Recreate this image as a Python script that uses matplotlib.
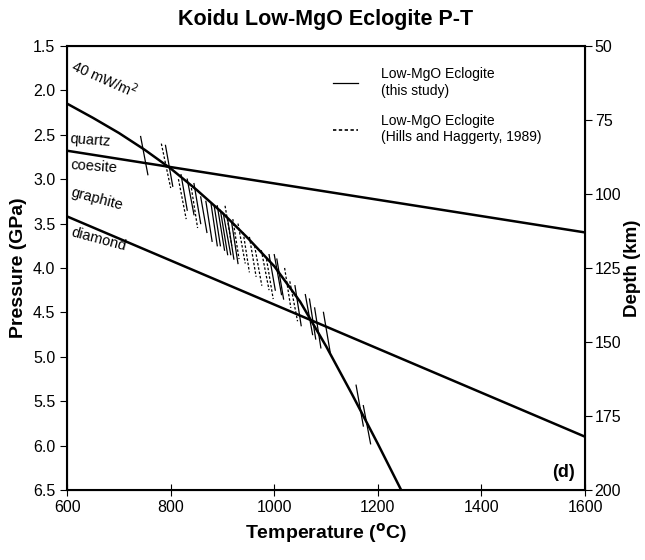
import matplotlib
matplotlib.use('Agg')
import matplotlib.pyplot as plt
from matplotlib.lines import Line2D

plt.rcParams['font.family'] = ['Liberation Sans', 'DejaVu Sans']

# 40 mW/m2 geotherm
geo_T = [600, 650, 700, 750, 800, 850, 900, 950, 1000, 1050, 1100, 1150, 1200, 1245]
geo_P = [2.15, 2.31, 2.48, 2.67, 2.88, 3.12, 3.38, 3.67, 3.98, 4.38, 4.88, 5.42, 5.98, 6.5]

# phase boundaries
qc_T = [600, 1600]
qc_P = [2.68, 3.6]
gd_T = [600, 1600]
gd_P = [3.42, 5.9]

# Low-MgO eclogite, this study (segment ends: T1, P1, T2, P2)
own_T1 = [742, 790, 820, 832, 845, 858, 868, 878, 884, 890, 896, 902, 910, 918,
          990, 1000, 1005, 1040, 1060, 1068, 1078, 1095, 1158, 1172]
own_P1 = [2.52, 2.62, 2.95, 3.0, 3.05, 3.2, 3.25, 3.28, 3.3, 3.3, 3.35, 3.4, 3.45, 3.5,
          3.85, 3.85, 3.9, 4.2, 4.3, 4.35, 4.45, 4.5, 5.32, 5.55]
own_T2 = [756, 804, 832, 845, 858, 870, 880, 890, 896, 904, 910, 916, 922, 930,
          1002, 1014, 1018, 1052, 1074, 1080, 1090, 1108, 1172, 1186]
own_P2 = [2.95, 3.08, 3.35, 3.4, 3.5, 3.6, 3.7, 3.75, 3.75, 3.8, 3.85, 3.85, 3.9, 3.95,
          4.25, 4.3, 4.35, 4.65, 4.75, 4.8, 4.9, 4.95, 5.78, 5.98]

# Hills and Haggerty (1989)
hh_T1 = [782, 815, 840, 905, 920, 930, 940, 952, 962, 975, 985, 1020, 1030]
hh_P1 = [2.6, 3.0, 3.1, 3.3, 3.45, 3.5, 3.6, 3.65, 3.75, 3.8, 3.9, 4.0, 4.15]
hh_T2 = [800, 830, 852, 918, 932, 944, 952, 965, 976, 990, 998, 1032, 1045]
hh_P2 = [3.1, 3.45, 3.55, 3.75, 3.9, 3.95, 4.05, 4.1, 4.2, 4.25, 4.35, 4.45, 4.6]

x_ticks = [600, 800, 1000, 1200, 1400, 1600]
p_ticks = [1.5, 2.0, 2.5, 3.0, 3.5, 4.0, 4.5, 5.0, 5.5, 6.0, 6.5]
d_ticks = [50, 75, 100, 125, 150, 175, 200]

fig = plt.figure(figsize=(6.45, 5.6), dpi=100)
ax = fig.add_axes([0.104, 0.125, 0.803, 0.793])

ax.plot(geo_T, geo_P, color='black', lw=1.8)
ax.plot(qc_T, qc_P, color='black', lw=1.8)
ax.plot(gd_T, gd_P, color='black', lw=1.8)

for t1, p1, t2, p2 in zip(own_T1, own_P1, own_T2, own_P2):
    ax.plot([t1, t2], [p1, p2], color='black', lw=0.9)
for t1, p1, t2, p2 in zip(hh_T1, hh_P1, hh_T2, hh_P2):
    ax.plot([t1, t2], [p1, p2], color='black', lw=0.9, ls=(0, (2, 1.5)))

ax.set_xlim(600, 1600)
ax.set_ylim(6.5, 1.5)
ax.set_xticks(x_ticks)
ax.set_yticks(p_ticks)
ax.set_yticklabels(['%.1f' % p for p in p_ticks])
ax.tick_params(axis='x', direction='inout', length=8, labelsize=11.5)
ax.tick_params(axis='y', direction='out', length=5, labelsize=11.5)
ax.set_xlabel('Temperature ($\\mathbf{^{o}}$C)', fontsize=14, fontweight='bold')
ax.set_ylabel('Pressure (GPa)', fontsize=14, fontweight='bold')
ax.set_title('Koidu Low-MgO Eclogite P-T', fontsize=15.5, fontweight='bold', pad=15)
for s in ax.spines.values():
    s.set_linewidth(1.5)

ax2 = ax.twinx()
ax2.set_ylim(200, 50)
ax2.set_yticks(d_ticks)
ax2.tick_params(axis='y', direction='out', length=5, labelsize=11.5, pad=2)
ax2.set_ylabel('Depth (km)', fontsize=13.5, fontweight='bold', rotation=90, labelpad=2)

# boundary labels
ax.text(603, 2.12, '40 mW/m$^2$', rotation=-24, fontsize=10.5, ha='left', va='bottom')
ax.text(605, 2.66, 'quartz', rotation=-4, fontsize=10.5, ha='left', va='bottom')
ax.text(605, 2.76, 'coesite', rotation=-4, fontsize=10.5, ha='left', va='top')
ax.text(605, 3.38, 'graphite', rotation=-15, fontsize=10.5, ha='left', va='bottom')
ax.text(605, 3.52, 'diamond', rotation=-15, fontsize=10.5, ha='left', va='top')
ax.text(1580, 6.3, '(d)', fontsize=13, fontweight='bold', ha='right', va='center')

handles = [Line2D([], [], color='black', lw=0.9),
           Line2D([], [], color='black', lw=1.2, ls=(0, (2, 1.5)))]
labels = ['Low-MgO Eclogite\n(this study)', 'Low-MgO Eclogite\n(Hills and Haggerty, 1989)']
ax.legend(handles, labels, loc='upper left', frameon=False, fontsize=10,
          handlelength=1.8, handletextpad=1.6, labelspacing=1.2,
          bbox_to_anchor=(0.49, 0.98))

fig.savefig('out.png', dpi=100)
